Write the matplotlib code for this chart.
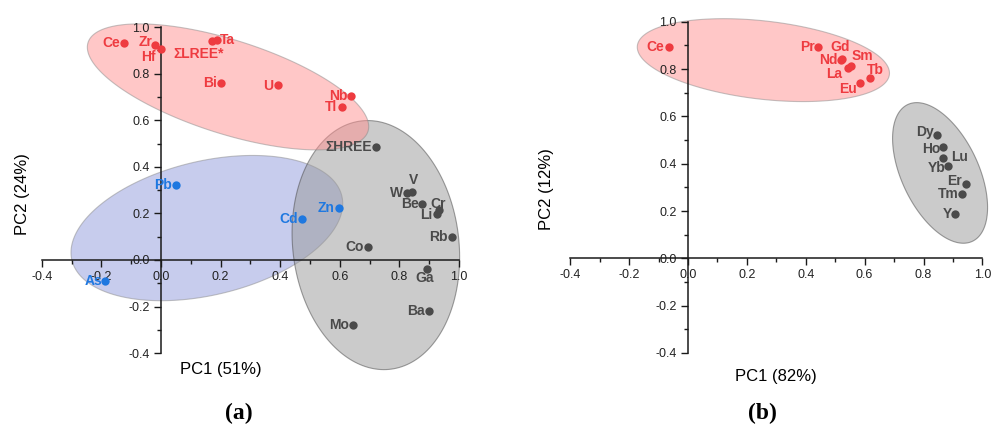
"""
PCA loading plots for two element groups, panels (a) and (b).
"""

import matplotlib
matplotlib.use("Agg")
import matplotlib.pyplot as plt
import numpy as np
from matplotlib.patches import Polygon
from matplotlib.ticker import FormatStrFormatter, MultipleLocator

# Panel (a) loadings, three clusters.
redNamesA = ["Ce", "Zr", "Hf", "ΣLREE*", "Ta", "Bi", "U", "Nb", "Tl"]
redPc1A = [-0.124, -0.020, 0.000, 0.170, 0.189, 0.200, 0.394, 0.636, 0.606]
redPc2A = [0.930, 0.923, 0.905, 0.941, 0.944, 0.760, 0.750, 0.705, 0.658]

blueNamesA = ["Pb", "As", "Zn", "Cd"]
bluePc1A = [0.049, -0.187, 0.597, 0.474]
bluePc2A = [0.322, -0.089, 0.223, 0.176]

grayNamesA = ["ΣHREE", "V", "W", "Be", "Cr", "Li", "Rb", "Co", "Ga", "Ba", "Mo"]
grayPc1A = [0.721, 0.841, 0.824, 0.877, 0.933, 0.925, 0.975, 0.695, 0.891, 0.900, 0.643]
grayPc2A = [0.484, 0.293, 0.286, 0.239, 0.215, 0.198, 0.100, 0.057, -0.040, -0.217, -0.279]

# Panel (b) loadings, two clusters.
redNamesB = ["Ce", "Pr", "Gd", "Sm", "Nd", "La", "Tb", "Eu"]
redPc1B = [-0.065, 0.440, 0.523, 0.552, 0.520, 0.544, 0.618, 0.584]
redPc2B = [0.895, 0.892, 0.843, 0.814, 0.838, 0.806, 0.761, 0.742]

grayNamesB = ["Dy", "Ho", "Lu", "Yb", "Er", "Tm", "Y"]
grayPc1B = [0.845, 0.867, 0.867, 0.884, 0.944, 0.929, 0.907]
grayPc2B = [0.521, 0.472, 0.425, 0.392, 0.313, 0.272, 0.187]

# Cluster ellipses: centre and two conjugate half-axes, in data units.
ellRedA = [(0.225, 0.743), (0.470, -0.150), (-0.044, 0.225)]
ellBlueA = [(0.154, 0.137), (0.453, 0.137), (-0.051, 0.280)]
ellGrayA = [(0.721, 0.064), (-0.048, 0.533), (0.277, 0.040)]
ellRedB = [(0.256, 0.838), (0.428, -0.050), (-0.013, 0.168)]
ellGrayB = [(0.856, 0.361), (-0.110, 0.289), (0.118, 0.070)]

# Label offsets in pixels (dx, dy, ha).
labelOffsets = {
    "Ce": (-4, 0, "right"), "Zr": (-3, 3, "right"), "Hf": (-5, -8, "right"),
    "ΣLREE*": (-13, -13, "center"), "Ta": (3, 0, "left"), "Bi": (-4, 0, "right"),
    "U": (-5, -1, "right"), "Nb": (-3, 0, "right"), "Tl": (-4, 0, "right"),
    "ΣHREE": (-4, 0, "right"), "V": (2, 12, "center"), "W": (-3, 0, "right"),
    "Be": (-3, 0, "right"), "Cr": (-1, 6, "center"), "Li": (-4, -1, "right"),
    "Rb": (-4, 0, "right"), "Co": (-4, 0, "right"), "Ga": (-2, -9, "center"),
    "Ba": (-4, 0, "right"), "Mo": (-4, 0, "right"), "Zn": (-4, 0, "right"),
    "Cd": (-4, 0, "right"), "Pb": (-4, 0, "right"), "As": (-3, 0, "right"),
}
labelOffsetsB = {
    "Ce": (-5, 0, "right"), "Pr": (-3, 0, "right"), "Gd": (-2, 12, "center"),
    "Sm": (1, 10, "left"), "Nd": (-4, 0, "right"), "La": (-6, -6, "right"),
    "Tb": (-3, 8, "left"), "Eu": (-3, -6, "right"), "Dy": (-3, 3, "right"),
    "Ho": (-3, -2, "right"), "Lu": (8, 1, "left"), "Yb": (-3, -2, "right"),
    "Er": (-4, 3, "right"), "Tm": (-3, 0, "right"), "Y": (-3, 0, "right"),
}

redColor = "#EE3B40"
blueColor = "#1F78E0"
grayColor = "#4A4A4A"
axisColor = "#1A1A1A"
fontFamily = ["Liberation Sans", "DejaVu Sans"]


# This function draws a filled ellipse from a centre and two conjugate half-axes.
def DrawEllipse(ax, ellSpec, faceColor, edgeColor):
    center, axisOne, axisTwo = [np.asarray(v) for v in ellSpec]
    tValues = np.linspace(0, 2 * np.pi, 200)
    pointArray = center + np.outer(np.cos(tValues), axisOne) + np.outer(np.sin(tValues), axisTwo)
    patch = Polygon(pointArray, closed=True, facecolor=faceColor, edgecolor=edgeColor,
                    linewidth=0.8, alpha=0.5, zorder=1, clip_on=False)
    ax.add_patch(patch)


# This function scatters one cluster and writes its labels.
def DrawGroup(ax, names, pc1, pc2, color, offsets):
    ax.scatter(pc1, pc2, s=36, color=color, zorder=4, linewidths=0, clip_on=False)
    for name, xVal, yVal in zip(names, pc1, pc2):
        dx, dy, ha = offsets[name]
        ax.annotate(name, (xVal, yVal), xytext=(dx, dy), textcoords="offset pixels",
                    ha=ha, va="center", color=color, fontsize=10, fontweight="bold",
                    family=fontFamily, zorder=5, annotation_clip=False)


# This function styles the cross-shaped axes through the origin.
def StyleAxes(ax):
    ax.set_xlim(-0.4, 1.0)
    ax.set_ylim(-0.4, 1.0)
    for side in ["top", "right"]:
        ax.spines[side].set_visible(False)
    for side in ["left", "bottom"]:
        ax.spines[side].set_position(("data", 0))
        ax.spines[side].set_linewidth(1.1)
        ax.spines[side].set_color(axisColor)
        ax.spines[side].set_zorder(3)
    ax.xaxis.set_major_locator(MultipleLocator(0.2))
    ax.xaxis.set_minor_locator(MultipleLocator(0.1))
    ax.yaxis.set_major_locator(MultipleLocator(0.2))
    ax.yaxis.set_minor_locator(MultipleLocator(0.1))
    ax.xaxis.set_major_formatter(FormatStrFormatter("%.1f"))
    ax.yaxis.set_major_formatter(FormatStrFormatter("%.1f"))
    ax.tick_params(which="major", direction="out", length=5, width=1, color=axisColor,
                   labelsize=9, pad=3)
    ax.tick_params(which="minor", direction="out", length=3, width=1, color=axisColor)
    for lab in ax.get_xticklabels() + ax.get_yticklabels():
        lab.set_family(fontFamily)
        lab.set_color("#222222")
    ax.patch.set_visible(False)


fig = plt.figure(figsize=(9.92, 4.26), dpi=100)
axA = fig.add_axes([0.0421, 0.1709, 0.4206, 0.7657])
axB = fig.add_axes([0.5748, 0.1716, 0.4156, 0.7772])

# Panel (a)
DrawEllipse(axA, ellBlueA, "#919BDD", "#8A8A8A")
DrawEllipse(axA, ellGrayA, "#999999", "#444444")
DrawEllipse(axA, ellRedA, "#FF9191", "#8A8A8A")
DrawGroup(axA, redNamesA, redPc1A, redPc2A, redColor, labelOffsets)
DrawGroup(axA, blueNamesA, bluePc1A, bluePc2A, blueColor, labelOffsets)
DrawGroup(axA, grayNamesA, grayPc1A, grayPc2A, grayColor, labelOffsets)
StyleAxes(axA)
axA.text(0.4295, -0.0515, "PC1 (51%)", transform=axA.transAxes, ha="center", va="center",
         fontsize=12, family=fontFamily)
axA.text(-0.046, 0.488, "PC2 (24%)", transform=axA.transAxes, ha="center", va="center",
         rotation=90, fontsize=12, family=fontFamily)

# Panel (b)
DrawEllipse(axB, ellGrayB, "#999999", "#444444")
DrawEllipse(axB, ellRedB, "#FF9191", "#8A8A8A")
DrawGroup(axB, redNamesB, redPc1B, redPc2B, redColor, labelOffsetsB)
DrawGroup(axB, grayNamesB, grayPc1B, grayPc2B, grayColor, labelOffsetsB)
StyleAxes(axB)
axB.text(0.499, -0.072, "PC1 (82%)", transform=axB.transAxes, ha="center", va="center",
         fontsize=12, family=fontFamily)
axB.text(-0.057, 0.495, "PC2 (12%)", transform=axB.transAxes, ha="center", va="center",
         rotation=90, fontsize=12, family=fontFamily)

fig.text(0.241, 0.0305, "(a)", ha="center", va="center", fontsize=17, fontweight="bold",
         family=["Liberation Serif", "DejaVu Serif"])
fig.text(0.769, 0.0305, "(b)", ha="center", va="center", fontsize=17, fontweight="bold",
         family=["Liberation Serif", "DejaVu Serif"])

fig.savefig("out.png", dpi=100)
